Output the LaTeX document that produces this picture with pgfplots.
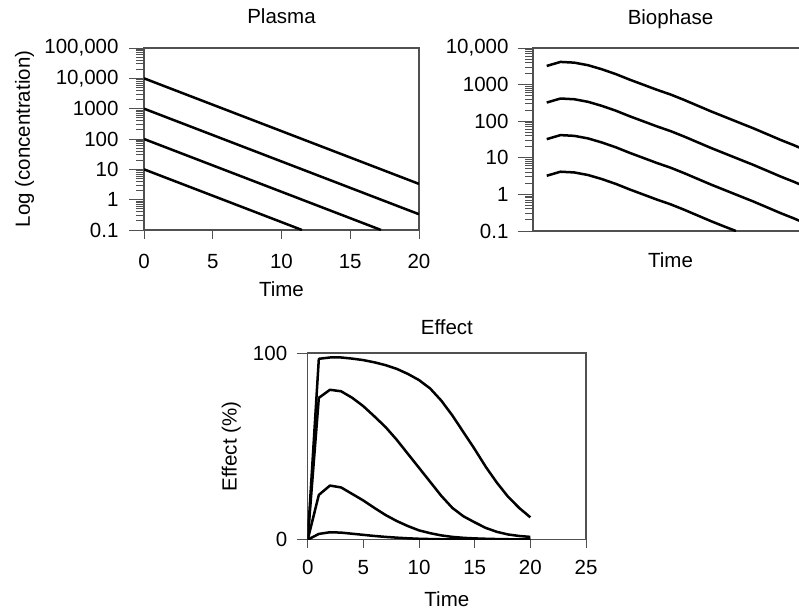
\documentclass[border=0pt]{standalone}
\usepackage{fontspec}
\setmainfont{Liberation Sans}
\usepackage{pgfplots}
\pgfplotsset{compat=1.18}
\definecolor{axgray}{RGB}{80,80,80}
\newcommand{\chartfont}{\fontsize{20.5bp}{24bp}\selectfont}
\pgfplotsset{
  pkstyle/.style={
    scale only axis,
    axis line style={axgray, line width=1.1bp},
    tick style={axgray, line width=1bp},
    tick align=outside, tick pos=left,
    major tick length=15bp, minor tick length=8bp,
    tick label style={font=\chartfont, text=black},
    label style={font=\chartfont},
    title style={font=\chartfont},
    every axis title shift=0pt,
    /pgf/number format/assume math mode=true,
    every axis plot post/.append style={black, line width=2.5bp, line join=round, mark=none},
  },
}

\begin{document}
\begin{tikzpicture}
\useasboundingbox (0,0) rectangle (799bp,-614bp);
\clip (0,0) rectangle (799bp,-614bp);

% plasma
\begin{axis}[pkstyle, ymode=log, at={(144bp,-230bp)}, anchor=south west,
  width=275bp, height=182bp,
  xmin=0, xmax=20, ymin=0.1, ymax=100000,
  xtick={0,5,10,15,20},
  xtick style={/pgfplots/major tick length=9bp},
  xticklabel style={yshift=-6bp},
  yticklabel style={xshift=-7bp},
  ytick={0.1,1,10,100,1000,10000,100000},
  yticklabels={0.1,1,10,100,1000,{10,000},{100,000}},
  minor ytick={0.2,0.3,0.4,0.5,0.6,0.7,0.8,0.9,2,3,4,5,6,7,8,9,
    20,30,40,50,60,70,80,90,200,300,400,500,600,700,800,900,
    2000,3000,4000,5000,6000,7000,8000,9000,
    20000,30000,40000,50000,60000,70000,80000,90000},
  title={Plasma}, title style={at={(0.5,1.132)}, anchor=base},
  xlabel={Time}, xlabel style={at={(0.5,-0.363)}, anchor=base},
  ylabel={Log (concentration)}, ylabel style={at={(-0.415,0.5)}, anchor=base}]
\addplot coordinates {(0,10000) (5,1349) (10,182.0) (15,24.55) (20,3.311)};
\addplot coordinates {(0,1000) (5,134.9) (10,18.20) (15,2.455) (20,0.3311)};
\addplot coordinates {(0,100) (5,13.49) (10,1.820) (15,0.2455) (17.24,0.1)};
\addplot coordinates {(0,10) (5,1.349) (10,0.182) (11.49,0.1)};
\end{axis}

% biophase
\begin{axis}[pkstyle, ymode=log, at={(533bp,-231bp)}, anchor=south west,
  width=275bp, height=183bp,
  xmin=0, xmax=20, ymin=0.1, ymax=10000,
  xtick=\empty,
  yticklabel style={xshift=-6bp},
  ytick={0.1,1,10,100,1000,10000},
  yticklabels={0.1,1,10,100,1000,{10,000}},
  minor ytick={0.2,0.3,0.4,0.5,0.6,0.7,0.8,0.9,2,3,4,5,6,7,8,9,
    20,30,40,50,60,70,80,90,200,300,400,500,600,700,800,900,
    2000,3000,4000,5000,6000,7000,8000,9000},
  title={Biophase}, title style={at={(0.5,1.131)}, anchor=base},
  xlabel={Time}, xlabel style={at={(0.5,-0.197)}, anchor=base}]
\addplot coordinates {(1,3236) (2,4169) (3,3981) (4,3388) (5,2630) (6,1950) (7,1380)
  (8,1000) (9,724) (10,537) (11,380) (12,263) (13,182) (14,129) (15,91.2)
  (16,64.6) (17,44.7) (18,30.9) (19,21.9) (20,15.1)};
\addplot coordinates {(1,323.6) (2,416.9) (3,398.1) (4,338.8) (5,263.0) (6,195.0) (7,138.0)
  (8,100.0) (9,72.4) (10,53.7) (11,38.0) (12,26.3) (13,18.2) (14,12.9) (15,9.12)
  (16,6.46) (17,4.47) (18,3.09) (19,2.19) (20,1.51)};
\addplot coordinates {(1,32.36) (2,41.69) (3,39.81) (4,33.88) (5,26.30) (6,19.50) (7,13.80)
  (8,10.00) (9,7.24) (10,5.37) (11,3.80) (12,2.63) (13,1.82) (14,1.29) (15,0.912)
  (16,0.646) (17,0.447) (18,0.309) (19,0.219) (20,0.151)};
\addplot coordinates {(1,3.236) (2,4.169) (3,3.981) (4,3.388) (5,2.630) (6,1.950) (7,1.380)
  (8,1.000) (9,0.724) (10,0.537) (11,0.380) (12,0.263) (13,0.182) (14,0.129) (14.76,0.1)};
\end{axis}

% effect
\begin{axis}[pkstyle, at={(307.7bp,-539.7bp)}, anchor=south west,
  width=278.3bp, height=186.7bp,
  xmin=0, xmax=25, ymin=0, ymax=100,
  major tick length=11bp,
  xtick={0,5,10,15,20,25}, ytick={0,100},
  xtick style={/pgfplots/major tick length=8bp},
  xticklabel style={yshift=-6bp},
  yticklabel style={xshift=-6bp},
  title={Effect}, title style={at={(0.5,1.098)}, anchor=base},
  xlabel={Time}, xlabel style={at={(0.5,-0.357)}, anchor=base},
  ylabel={Effect (\%)}, ylabel style={at={(-0.255,0.5)}, anchor=base}]
\addplot coordinates {(0,0) (1,96.9) (2,97.6) (3,97.6) (4,97.0) (5,96.2) (6,95.0) (7,93.5)
  (8,91.5) (9,88.8) (10,85.5) (11,81.0) (12,74.5) (13,66.5) (14,57.5) (15,48.5)
  (16,39.0) (17,30.5) (18,23.0) (19,17.0) (20,12.0)};
\addplot coordinates {(0,0) (1,76.0) (2,80.3) (3,79.5) (4,76.0) (5,71.5) (6,66.0) (7,60.3)
  (8,53.5) (9,46.0) (10,38.5) (11,31.0) (12,23.5) (13,17.0) (14,12.5) (15,9.3)
  (16,6.3) (17,4.2) (18,2.8) (19,2.0) (20,1.5)};
\addplot coordinates {(0,0) (1,24.0) (2,29.0) (3,28.0) (4,24.5) (5,21.0) (6,17.0) (7,13.2)
  (8,10.0) (9,7.3) (10,5.0) (11,3.5) (12,2.3) (13,1.5) (14,1.0) (15,0.7)
  (16,0.5) (17,0.35) (18,0.25) (19,0.18) (20,0.12)};
\addplot coordinates {(0,0) (1,3.1) (2,4.0) (3,3.8) (4,3.2) (5,2.6) (6,2.0) (7,1.5)
  (8,1.1) (9,0.75) (10,0.5) (11,0.35) (12,0.23) (13,0.15) (14,0.1) (15,0.07)
  (16,0.05) (17,0.03) (18,0.02) (19,0.015) (20,0.01)};
\end{axis}
\end{tikzpicture}
\end{document}
